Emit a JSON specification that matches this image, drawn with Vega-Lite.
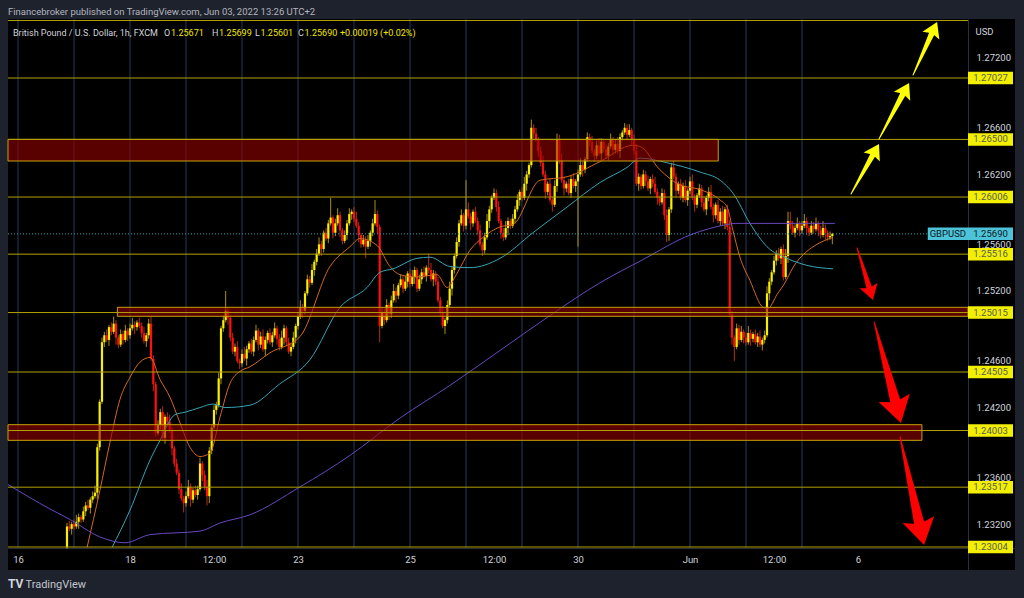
{
"$schema":"https://vega.github.io/schema/vega-lite/v6.json",
"width":1007,"height":551,
"autosize":{"type":"none"},
"padding":{"left":8,"top":19,"right":9,"bottom":28},
"background":"#1e222d",
"title":{"text":"Financebroker published on TradingView.com, Jun 03, 2022 13:26 UTC+2","anchor":"start","frame":"group","offset":7,"dy":10,"baseline":"middle","fontSize":9.5,"fontWeight":"normal","color":"#b2b5be","font":"Roboto"},
"config":{"view":{"fill":"#000000","stroke":null},"font":"Roboto","text":{"font":"Roboto"}},
"datasets":{
"days":[{"t":0},{"t":24},{"t":48},{"t":72},{"t":96},{"t":120},{"t":144},{"t":168},{"t":192},{"t":216},{"t":240},{"t":264},{"t":288},{"t":312},{"t":336}],
"zones":[{"t1":-4.2857,"t2":300.1,"p1":1.26315,"p2":1.26501},{"t1":42.6,"t2":407.14,"p1":1.24983,"p2":1.2506},{"t1":-4.2857,"t2":387.4,"p1":1.23919,"p2":1.24053}],
"levels":[{"p":1.2752},{"p":1.27027},{"p":1.265},{"p":1.26006},{"p":1.25516},{"p":1.25015},{"p":1.24505},{"p":1.24003},{"p":1.23517},{"p":1.23004}],
"tags":[{"p":1.27027},{"p":1.265},{"p":1.26006},{"p":1.25516},{"p":1.25015},{"p":1.24505},{"p":1.24003},{"p":1.23517},{"p":1.23004}],
"ma":[
{"s":"fast","t":29.6,"p":1.2300},{"s":"fast","t":35.1,"p":1.2349},{"s":"fast","t":39.4,"p":1.2390},{"s":"fast","t":43.7,"p":1.2427},{"s":"fast","t":48,"p":1.2446},{"s":"fast","t":52.3,"p":1.2459},{"s":"fast","t":56.6,"p":1.2463},{"s":"fast","t":60.9,"p":1.2444},{"s":"fast","t":65.1,"p":1.2429},{"s":"fast","t":69.4,"p":1.2407},{"s":"fast","t":73.7,"p":1.2386},{"s":"fast","t":78,"p":1.2378},{"s":"fast","t":82.3,"p":1.2381},{"s":"fast","t":86.6,"p":1.2412},{"s":"fast","t":90.9,"p":1.2441},{"s":"fast","t":95.1,"p":1.2451},{"s":"fast","t":99.4,"p":1.2455},{"s":"fast","t":108,"p":1.2467},{"s":"fast","t":120.9,"p":1.2481},{"s":"fast","t":133.7,"p":1.2541},{"s":"fast","t":142.3,"p":1.2558},{"s":"fast","t":146.6,"p":1.2565},{"s":"fast","t":153.9,"p":1.2559},{"s":"fast","t":159.4,"p":1.2541},{"s":"fast","t":163.7,"p":1.2534},{"s":"fast","t":171,"p":1.2532},{"s":"fast","t":179.6,"p":1.2534},{"s":"fast","t":183.9,"p":1.2523},{"s":"fast","t":188.1,"p":1.2535},{"s":"fast","t":193.7,"p":1.2555},{"s":"fast","t":199.3,"p":1.2566},{"s":"fast","t":206.6,"p":1.2575},{"s":"fast","t":212.1,"p":1.2577},{"s":"fast","t":223.7,"p":1.2615},{"s":"fast","t":235.3,"p":1.2618},{"s":"fast","t":249.4,"p":1.2631},{"s":"fast","t":263.6,"p":1.2645},{"s":"fast","t":266.6,"p":1.2644},{"s":"fast","t":275.1,"p":1.2624},{"s":"fast","t":283.7,"p":1.2611},{"s":"fast","t":292.3,"p":1.2607},{"s":"fast","t":300.9,"p":1.2598},{"s":"fast","t":303.9,"p":1.2592},{"s":"fast","t":306.4,"p":1.2572},{"s":"fast","t":309.4,"p":1.2549},{"s":"fast","t":313.7,"p":1.2529},{"s":"fast","t":319.3,"p":1.2506},{"s":"fast","t":321.4,"p":1.2505},{"s":"fast","t":325.3,"p":1.2517},{"s":"fast","t":328.7,"p":1.2527},{"s":"fast","t":332.1,"p":1.2540},{"s":"fast","t":338.1,"p":1.2554},{"s":"fast","t":342.4,"p":1.2560},{"s":"fast","t":349.3,"p":1.2566},
{"s":"mid","t":40.3,"p":1.2300},{"s":"mid","t":48,"p":1.2332},{"s":"mid","t":56.6,"p":1.2375},{"s":"mid","t":60.9,"p":1.2392},{"s":"mid","t":67.3,"p":1.2414},{"s":"mid","t":71.6,"p":1.2416},{"s":"mid","t":78,"p":1.2420},{"s":"mid","t":83.6,"p":1.2423},{"s":"mid","t":88.7,"p":1.2420},{"s":"mid","t":99.4,"p":1.2422},{"s":"mid","t":112,"p":1.2440},{"s":"mid","t":125.1,"p":1.2461},{"s":"mid","t":138,"p":1.2506},{"s":"mid","t":149.6,"p":1.2523},{"s":"mid","t":155.1,"p":1.2536},{"s":"mid","t":160.7,"p":1.2539},{"s":"mid","t":171,"p":1.2548},{"s":"mid","t":176.6,"p":1.2549},{"s":"mid","t":185.1,"p":1.2541},{"s":"mid","t":193.7,"p":1.2540},{"s":"mid","t":206.6,"p":1.2548},{"s":"mid","t":220.7,"p":1.2570},{"s":"mid","t":235.3,"p":1.2592},{"s":"mid","t":249.4,"p":1.2613},{"s":"mid","t":261,"p":1.2626},{"s":"mid","t":266.6,"p":1.2634},{"s":"mid","t":278.1,"p":1.2630},{"s":"mid","t":292.3,"p":1.2622},{"s":"mid","t":300.9,"p":1.2615},{"s":"mid","t":306.4,"p":1.2604},{"s":"mid","t":313.7,"p":1.2578},{"s":"mid","t":321,"p":1.2558},{"s":"mid","t":329.6,"p":1.2548},{"s":"mid","t":338.1,"p":1.2542},{"s":"mid","t":349.3,"p":1.2539},
{"s":"slow","t":-4.3,"p":1.2354},{"s":"slow","t":13.7,"p":1.2333},{"s":"slow","t":22.3,"p":1.2324},{"s":"slow","t":35.1,"p":1.2309},{"s":"slow","t":45.9,"p":1.2304},{"s":"slow","t":56.6,"p":1.2311},{"s":"slow","t":78,"p":1.2314},{"s":"slow","t":86.6,"p":1.2321},{"s":"slow","t":99.4,"p":1.2328},{"s":"slow","t":120.9,"p":1.2352},{"s":"slow","t":142.3,"p":1.2379},{"s":"slow","t":163.7,"p":1.2411},{"s":"slow","t":185.1,"p":1.2439},{"s":"slow","t":206.6,"p":1.2469},{"s":"slow","t":228,"p":1.2499},{"s":"slow","t":249.4,"p":1.2527},{"s":"slow","t":267.9,"p":1.2547},{"s":"slow","t":288,"p":1.2568},{"s":"slow","t":303.9,"p":1.2577},{"s":"slow","t":307.3,"p":1.2578},{"s":"slow","t":350.1,"p":1.2578}
],
"shafts":[
{"id":"A1","kind":"up","part":"tail","hs":"s","t":357.0,"p":1.26032},{"id":"A1","kind":"up","part":"end","hs":"s","t":367.1,"p":1.26393},
{"id":"A2","kind":"up","part":"tail","hs":"s","t":369.0,"p":1.26504},{"id":"A2","kind":"up","part":"end","hs":"s","t":379.8,"p":1.26909},
{"id":"A3","kind":"up","part":"tail","hs":"s","t":383.6,"p":1.27053},{"id":"A3","kind":"up","part":"end","hs":"s","t":392.1,"p":1.27429},
{"id":"R1","kind":"down","part":"tail","hs":"s","t":359.6,"p":1.25569},{"id":"R1","kind":"down","part":"end","hs":"s","t":365.3,"p":1.25196},
{"id":"R2","kind":"down","part":"tail","hs":"l","t":366.9,"p":1.24934},{"id":"R2","kind":"down","part":"end","hs":"l","t":376.7,"p":1.24201},
{"id":"R3","kind":"down","part":"tail","hs":"l","t":378.0,"p":1.23948},{"id":"R3","kind":"down","part":"end","hs":"l","t":386.8,"p":1.23155}
],
"heads":[
{"id":"A1","kind":"up","hs":"s","t":369.0,"p":1.26461,"heading":29.2},
{"id":"A2","kind":"up","hs":"s","t":381.9,"p":1.26984,"heading":28.2},
{"id":"A3","kind":"up","hs":"s","t":393.9,"p":1.27507,"heading":24.4},
{"id":"R1","kind":"down","hs":"s","t":366.4,"p":1.25123,"heading":162.9},
{"id":"R2","kind":"down","hs":"l","t":378.4,"p":1.24068,"heading":165},
{"id":"R3","kind":"down","hs":"l","t":388.3,"p":1.23021,"heading":167.5}
],
"ohlc":[
{"t":21,"o":1.2300,"h":1.2321,"l":1.2299,"c":1.2318},
{"t":22,"o":1.2318,"h":1.2323,"l":1.2314,"c":1.2316},
{"t":23,"o":1.2316,"h":1.2322,"l":1.2311,"c":1.2320},
{"t":24,"o":1.2320,"h":1.2324,"l":1.2315,"c":1.2318},
{"t":25,"o":1.2318,"h":1.2328,"l":1.2316,"c":1.2322},
{"t":26,"o":1.2322,"h":1.2329,"l":1.2316,"c":1.2326},
{"t":27,"o":1.2326,"h":1.2328,"l":1.2321,"c":1.2324},
{"t":28,"o":1.2324,"h":1.2335,"l":1.2322,"c":1.2331},
{"t":29,"o":1.2331,"h":1.2339,"l":1.2327,"c":1.2336},
{"t":30,"o":1.2336,"h":1.2341,"l":1.2332,"c":1.2334},
{"t":31,"o":1.2334,"h":1.2343,"l":1.2329,"c":1.2341},
{"t":32,"o":1.2341,"h":1.2348,"l":1.2338,"c":1.2344},
{"t":33,"o":1.2344,"h":1.2353,"l":1.2342,"c":1.2347},
{"t":34,"o":1.2347,"h":1.2389,"l":1.2341,"c":1.2386},
{"t":35,"o":1.2386,"h":1.2427,"l":1.2383,"c":1.2425},
{"t":36,"o":1.2425,"h":1.2480,"l":1.2423,"c":1.2476},
{"t":37,"o":1.2476,"h":1.2485,"l":1.2472,"c":1.2482},
{"t":38,"o":1.2482,"h":1.2487,"l":1.2476,"c":1.2478},
{"t":39,"o":1.2478,"h":1.2491,"l":1.2473,"c":1.2489},
{"t":40,"o":1.2489,"h":1.2493,"l":1.2482,"c":1.2485},
{"t":41,"o":1.2485,"h":1.2498,"l":1.2483,"c":1.2492},
{"t":42,"o":1.2492,"h":1.2495,"l":1.2474,"c":1.2480},
{"t":43,"o":1.2480,"h":1.2482,"l":1.2471,"c":1.2474},
{"t":44,"o":1.2474,"h":1.2487,"l":1.2472,"c":1.2483},
{"t":45,"o":1.2483,"h":1.2486,"l":1.2474,"c":1.2478},
{"t":46,"o":1.2478,"h":1.2491,"l":1.2476,"c":1.2486},
{"t":47,"o":1.2486,"h":1.2488,"l":1.2477,"c":1.2482},
{"t":48,"o":1.2482,"h":1.2492,"l":1.2479,"c":1.2488},
{"t":49,"o":1.2488,"h":1.2497,"l":1.2486,"c":1.2491},
{"t":50,"o":1.2491,"h":1.2494,"l":1.2483,"c":1.2489},
{"t":51,"o":1.2489,"h":1.2495,"l":1.2486,"c":1.2493},
{"t":52,"o":1.2493,"h":1.2497,"l":1.2488,"c":1.2490},
{"t":53,"o":1.2490,"h":1.2493,"l":1.2480,"c":1.2484},
{"t":54,"o":1.2484,"h":1.2489,"l":1.2475,"c":1.2477},
{"t":55,"o":1.2477,"h":1.2484,"l":1.2472,"c":1.2482},
{"t":56,"o":1.2482,"h":1.2496,"l":1.2479,"c":1.2492},
{"t":57,"o":1.2492,"h":1.2498,"l":1.2460,"c":1.2462},
{"t":58,"o":1.2462,"h":1.2465,"l":1.2434,"c":1.2440},
{"t":59,"o":1.2440,"h":1.2442,"l":1.2395,"c":1.2398},
{"t":60,"o":1.2398,"h":1.2409,"l":1.2396,"c":1.2405},
{"t":61,"o":1.2405,"h":1.2419,"l":1.2401,"c":1.2416},
{"t":62,"o":1.2416,"h":1.2421,"l":1.2392,"c":1.2394},
{"t":63,"o":1.2394,"h":1.2414,"l":1.2389,"c":1.2412},
{"t":64,"o":1.2412,"h":1.2416,"l":1.2405,"c":1.2408},
{"t":65,"o":1.2408,"h":1.2414,"l":1.2398,"c":1.2400},
{"t":66,"o":1.2400,"h":1.2403,"l":1.2379,"c":1.2385},
{"t":67,"o":1.2385,"h":1.2387,"l":1.2369,"c":1.2372},
{"t":68,"o":1.2372,"h":1.2376,"l":1.2362,"c":1.2364},
{"t":69,"o":1.2364,"h":1.2367,"l":1.2346,"c":1.2350},
{"t":70,"o":1.2350,"h":1.2355,"l":1.2340,"c":1.2342},
{"t":71,"o":1.2342,"h":1.2344,"l":1.2330,"c":1.2338},
{"t":72,"o":1.2338,"h":1.2348,"l":1.2335,"c":1.2344},
{"t":73,"o":1.2344,"h":1.2358,"l":1.2342,"c":1.2352},
{"t":74,"o":1.2352,"h":1.2355,"l":1.2335,"c":1.2341},
{"t":75,"o":1.2341,"h":1.2351,"l":1.2338,"c":1.2349},
{"t":76,"o":1.2349,"h":1.2353,"l":1.2343,"c":1.2345},
{"t":77,"o":1.2345,"h":1.2353,"l":1.2341,"c":1.2350},
{"t":78,"o":1.2350,"h":1.2377,"l":1.2348,"c":1.2372},
{"t":79,"o":1.2372,"h":1.2374,"l":1.2357,"c":1.2362},
{"t":80,"o":1.2362,"h":1.2366,"l":1.2349,"c":1.2352},
{"t":81,"o":1.2352,"h":1.2358,"l":1.2336,"c":1.2344},
{"t":82,"o":1.2344,"h":1.2386,"l":1.2338,"c":1.2383},
{"t":83,"o":1.2383,"h":1.2405,"l":1.2380,"c":1.2403},
{"t":84,"o":1.2403,"h":1.2422,"l":1.2401,"c":1.2418},
{"t":85,"o":1.2418,"h":1.2425,"l":1.2414,"c":1.2422},
{"t":86,"o":1.2422,"h":1.2450,"l":1.2420,"c":1.2445},
{"t":87,"o":1.2445,"h":1.2490,"l":1.2440,"c":1.2488},
{"t":88,"o":1.2488,"h":1.2499,"l":1.2485,"c":1.2495},
{"t":89,"o":1.2495,"h":1.2520,"l":1.2493,"c":1.2503},
{"t":90,"o":1.2503,"h":1.2506,"l":1.2491,"c":1.2497},
{"t":91,"o":1.2497,"h":1.2499,"l":1.2477,"c":1.2480},
{"t":92,"o":1.2480,"h":1.2484,"l":1.2466,"c":1.2468},
{"t":93,"o":1.2468,"h":1.2475,"l":1.2464,"c":1.2472},
{"t":94,"o":1.2472,"h":1.2477,"l":1.2458,"c":1.2460},
{"t":95,"o":1.2460,"h":1.2462,"l":1.2453,"c":1.2458},
{"t":96,"o":1.2458,"h":1.2470,"l":1.2455,"c":1.2466},
{"t":97,"o":1.2466,"h":1.2472,"l":1.2460,"c":1.2462},
{"t":98,"o":1.2462,"h":1.2473,"l":1.2456,"c":1.2470},
{"t":99,"o":1.2470,"h":1.2477,"l":1.2467,"c":1.2475},
{"t":100,"o":1.2475,"h":1.2479,"l":1.2466,"c":1.2468},
{"t":101,"o":1.2468,"h":1.2481,"l":1.2464,"c":1.2478},
{"t":102,"o":1.2478,"h":1.2491,"l":1.2476,"c":1.2486},
{"t":103,"o":1.2486,"h":1.2488,"l":1.2469,"c":1.2474},
{"t":104,"o":1.2474,"h":1.2485,"l":1.2471,"c":1.2481},
{"t":105,"o":1.2481,"h":1.2487,"l":1.2468,"c":1.2470},
{"t":106,"o":1.2470,"h":1.2481,"l":1.2464,"c":1.2478},
{"t":107,"o":1.2478,"h":1.2486,"l":1.2475,"c":1.2484},
{"t":108,"o":1.2484,"h":1.2488,"l":1.2474,"c":1.2476},
{"t":109,"o":1.2476,"h":1.2485,"l":1.2472,"c":1.2482},
{"t":110,"o":1.2482,"h":1.2493,"l":1.2480,"c":1.2488},
{"t":111,"o":1.2488,"h":1.2490,"l":1.2474,"c":1.2479},
{"t":112,"o":1.2479,"h":1.2483,"l":1.2469,"c":1.2472},
{"t":113,"o":1.2472,"h":1.2486,"l":1.2470,"c":1.2480},
{"t":114,"o":1.2480,"h":1.2491,"l":1.2474,"c":1.2488},
{"t":115,"o":1.2488,"h":1.2490,"l":1.2473,"c":1.2476},
{"t":116,"o":1.2476,"h":1.2480,"l":1.2466,"c":1.2468},
{"t":117,"o":1.2468,"h":1.2475,"l":1.2464,"c":1.2472},
{"t":118,"o":1.2472,"h":1.2485,"l":1.2470,"c":1.2480},
{"t":119,"o":1.2480,"h":1.2492,"l":1.2475,"c":1.2490},
{"t":120,"o":1.2490,"h":1.2502,"l":1.2487,"c":1.2498},
{"t":121,"o":1.2498,"h":1.2512,"l":1.2496,"c":1.2506},
{"t":122,"o":1.2506,"h":1.2509,"l":1.2497,"c":1.2503},
{"t":123,"o":1.2503,"h":1.2520,"l":1.2500,"c":1.2518},
{"t":124,"o":1.2518,"h":1.2534,"l":1.2516,"c":1.2530},
{"t":125,"o":1.2530,"h":1.2533,"l":1.2523,"c":1.2527},
{"t":126,"o":1.2527,"h":1.2543,"l":1.2525,"c":1.2538},
{"t":127,"o":1.2538,"h":1.2547,"l":1.2533,"c":1.2545},
{"t":128,"o":1.2545,"h":1.2556,"l":1.2542,"c":1.2552},
{"t":129,"o":1.2552,"h":1.2566,"l":1.2550,"c":1.2560},
{"t":130,"o":1.2560,"h":1.2563,"l":1.2550,"c":1.2556},
{"t":131,"o":1.2556,"h":1.2572,"l":1.2553,"c":1.2570},
{"t":132,"o":1.2570,"h":1.2574,"l":1.2563,"c":1.2565},
{"t":133,"o":1.2565,"h":1.2581,"l":1.2561,"c":1.2578},
{"t":134,"o":1.2578,"h":1.2600,"l":1.2576,"c":1.2583},
{"t":135,"o":1.2583,"h":1.2585,"l":1.2565,"c":1.2570},
{"t":136,"o":1.2570,"h":1.2582,"l":1.2567,"c":1.2578},
{"t":137,"o":1.2578,"h":1.2591,"l":1.2576,"c":1.2585},
{"t":138,"o":1.2585,"h":1.2588,"l":1.2566,"c":1.2572},
{"t":139,"o":1.2572,"h":1.2574,"l":1.2560,"c":1.2563},
{"t":140,"o":1.2563,"h":1.2572,"l":1.2561,"c":1.2568},
{"t":141,"o":1.2568,"h":1.2581,"l":1.2564,"c":1.2578},
{"t":142,"o":1.2578,"h":1.2591,"l":1.2576,"c":1.2586},
{"t":143,"o":1.2586,"h":1.2590,"l":1.2581,"c":1.2588},
{"t":144,"o":1.2588,"h":1.2592,"l":1.2579,"c":1.2582},
{"t":145,"o":1.2582,"h":1.2588,"l":1.2574,"c":1.2576},
{"t":146,"o":1.2576,"h":1.2579,"l":1.2562,"c":1.2568},
{"t":147,"o":1.2568,"h":1.2570,"l":1.2557,"c":1.2560},
{"t":148,"o":1.2560,"h":1.2568,"l":1.2558,"c":1.2564},
{"t":149,"o":1.2564,"h":1.2567,"l":1.2548,"c":1.2558},
{"t":150,"o":1.2558,"h":1.2568,"l":1.2556,"c":1.2563},
{"t":151,"o":1.2563,"h":1.2572,"l":1.2558,"c":1.2570},
{"t":152,"o":1.2570,"h":1.2582,"l":1.2567,"c":1.2578},
{"t":153,"o":1.2578,"h":1.2598,"l":1.2576,"c":1.2586},
{"t":154,"o":1.2586,"h":1.2589,"l":1.2569,"c":1.2575},
{"t":155,"o":1.2575,"h":1.2577,"l":1.2476,"c":1.2490},
{"t":156,"o":1.2490,"h":1.2506,"l":1.2488,"c":1.2502},
{"t":157,"o":1.2502,"h":1.2505,"l":1.2491,"c":1.2495},
{"t":158,"o":1.2495,"h":1.2513,"l":1.2493,"c":1.2508},
{"t":159,"o":1.2508,"h":1.2510,"l":1.2495,"c":1.2500},
{"t":160,"o":1.2500,"h":1.2516,"l":1.2497,"c":1.2512},
{"t":161,"o":1.2512,"h":1.2526,"l":1.2510,"c":1.2520},
{"t":162,"o":1.2520,"h":1.2523,"l":1.2510,"c":1.2516},
{"t":163,"o":1.2516,"h":1.2527,"l":1.2513,"c":1.2525},
{"t":164,"o":1.2525,"h":1.2534,"l":1.2523,"c":1.2530},
{"t":165,"o":1.2530,"h":1.2533,"l":1.2518,"c":1.2522},
{"t":166,"o":1.2522,"h":1.2533,"l":1.2520,"c":1.2528},
{"t":167,"o":1.2528,"h":1.2537,"l":1.2523,"c":1.2535},
{"t":168,"o":1.2535,"h":1.2539,"l":1.2523,"c":1.2526},
{"t":169,"o":1.2526,"h":1.2538,"l":1.2524,"c":1.2532},
{"t":170,"o":1.2532,"h":1.2541,"l":1.2526,"c":1.2538},
{"t":171,"o":1.2538,"h":1.2540,"l":1.2519,"c":1.2522},
{"t":172,"o":1.2522,"h":1.2534,"l":1.2520,"c":1.2530},
{"t":173,"o":1.2530,"h":1.2539,"l":1.2526,"c":1.2536},
{"t":174,"o":1.2536,"h":1.2541,"l":1.2531,"c":1.2533},
{"t":175,"o":1.2533,"h":1.2542,"l":1.2528,"c":1.2540},
{"t":176,"o":1.2540,"h":1.2552,"l":1.2535,"c":1.2538},
{"t":177,"o":1.2538,"h":1.2544,"l":1.2528,"c":1.2530},
{"t":178,"o":1.2530,"h":1.2538,"l":1.2524,"c":1.2535},
{"t":179,"o":1.2535,"h":1.2537,"l":1.2525,"c":1.2528},
{"t":180,"o":1.2528,"h":1.2532,"l":1.2510,"c":1.2512},
{"t":181,"o":1.2512,"h":1.2515,"l":1.2498,"c":1.2502},
{"t":182,"o":1.2502,"h":1.2507,"l":1.2488,"c":1.2490},
{"t":183,"o":1.2490,"h":1.2497,"l":1.2483,"c":1.2495},
{"t":184,"o":1.2495,"h":1.2512,"l":1.2492,"c":1.2508},
{"t":185,"o":1.2508,"h":1.2528,"l":1.2506,"c":1.2522},
{"t":186,"o":1.2522,"h":1.2541,"l":1.2516,"c":1.2538},
{"t":187,"o":1.2538,"h":1.2552,"l":1.2535,"c":1.2550},
{"t":188,"o":1.2550,"h":1.2566,"l":1.2548,"c":1.2562},
{"t":189,"o":1.2562,"h":1.2581,"l":1.2558,"c":1.2578},
{"t":190,"o":1.2578,"h":1.2590,"l":1.2576,"c":1.2585},
{"t":191,"o":1.2585,"h":1.2587,"l":1.2571,"c":1.2576},
{"t":192,"o":1.2576,"h":1.2615,"l":1.2573,"c":1.2590},
{"t":193,"o":1.2590,"h":1.2596,"l":1.2582,"c":1.2584},
{"t":194,"o":1.2584,"h":1.2587,"l":1.2572,"c":1.2578},
{"t":195,"o":1.2578,"h":1.2590,"l":1.2575,"c":1.2588},
{"t":196,"o":1.2588,"h":1.2592,"l":1.2578,"c":1.2580},
{"t":197,"o":1.2580,"h":1.2583,"l":1.2568,"c":1.2572},
{"t":198,"o":1.2572,"h":1.2577,"l":1.2558,"c":1.2560},
{"t":199,"o":1.2560,"h":1.2562,"l":1.2550,"c":1.2555},
{"t":200,"o":1.2555,"h":1.2570,"l":1.2552,"c":1.2566},
{"t":201,"o":1.2566,"h":1.2586,"l":1.2564,"c":1.2580},
{"t":202,"o":1.2580,"h":1.2593,"l":1.2574,"c":1.2590},
{"t":203,"o":1.2590,"h":1.2602,"l":1.2587,"c":1.2600},
{"t":204,"o":1.2600,"h":1.2608,"l":1.2598,"c":1.2604},
{"t":205,"o":1.2604,"h":1.2607,"l":1.2588,"c":1.2592},
{"t":206,"o":1.2592,"h":1.2597,"l":1.2578,"c":1.2580},
{"t":207,"o":1.2580,"h":1.2582,"l":1.2565,"c":1.2570},
{"t":208,"o":1.2570,"h":1.2574,"l":1.2563,"c":1.2566},
{"t":209,"o":1.2566,"h":1.2580,"l":1.2564,"c":1.2574},
{"t":210,"o":1.2574,"h":1.2583,"l":1.2568,"c":1.2580},
{"t":211,"o":1.2580,"h":1.2582,"l":1.2573,"c":1.2576},
{"t":212,"o":1.2576,"h":1.2586,"l":1.2574,"c":1.2582},
{"t":213,"o":1.2582,"h":1.2593,"l":1.2578,"c":1.2590},
{"t":214,"o":1.2590,"h":1.2603,"l":1.2588,"c":1.2598},
{"t":215,"o":1.2598,"h":1.2607,"l":1.2593,"c":1.2605},
{"t":216,"o":1.2605,"h":1.2609,"l":1.2597,"c":1.2600},
{"t":217,"o":1.2600,"h":1.2618,"l":1.2598,"c":1.2612},
{"t":218,"o":1.2612,"h":1.2623,"l":1.2606,"c":1.2620},
{"t":219,"o":1.2620,"h":1.2630,"l":1.2617,"c":1.2628},
{"t":220,"o":1.2628,"h":1.2667,"l":1.2626,"c":1.2660},
{"t":221,"o":1.2660,"h":1.2663,"l":1.2651,"c":1.2655},
{"t":222,"o":1.2655,"h":1.2660,"l":1.2648,"c":1.2650},
{"t":223,"o":1.2650,"h":1.2652,"l":1.2635,"c":1.2640},
{"t":224,"o":1.2640,"h":1.2644,"l":1.2627,"c":1.2630},
{"t":225,"o":1.2630,"h":1.2636,"l":1.2618,"c":1.2620},
{"t":226,"o":1.2620,"h":1.2623,"l":1.2599,"c":1.2605},
{"t":227,"o":1.2605,"h":1.2614,"l":1.2602,"c":1.2612},
{"t":228,"o":1.2612,"h":1.2616,"l":1.2596,"c":1.2598},
{"t":229,"o":1.2598,"h":1.2601,"l":1.2588,"c":1.2594},
{"t":230,"o":1.2594,"h":1.2615,"l":1.2592,"c":1.2610},
{"t":231,"o":1.2610,"h":1.2655,"l":1.2605,"c":1.2650},
{"t":232,"o":1.2650,"h":1.2654,"l":1.2629,"c":1.2632},
{"t":233,"o":1.2632,"h":1.2638,"l":1.2613,"c":1.2615},
{"t":234,"o":1.2615,"h":1.2618,"l":1.2602,"c":1.2608},
{"t":235,"o":1.2608,"h":1.2614,"l":1.2605,"c":1.2612},
{"t":236,"o":1.2612,"h":1.2616,"l":1.2602,"c":1.2604},
{"t":237,"o":1.2604,"h":1.2619,"l":1.2600,"c":1.2616},
{"t":238,"o":1.2616,"h":1.2621,"l":1.2608,"c":1.2610},
{"t":239,"o":1.2610,"h":1.2616,"l":1.2605,"c":1.2614},
{"t":240,"o":1.2614,"h":1.2624,"l":1.2558,"c":1.2620},
{"t":241,"o":1.2620,"h":1.2634,"l":1.2618,"c":1.2628},
{"t":242,"o":1.2628,"h":1.2631,"l":1.2618,"c":1.2624},
{"t":243,"o":1.2624,"h":1.2635,"l":1.2621,"c":1.2633},
{"t":244,"o":1.2633,"h":1.2656,"l":1.2631,"c":1.2652},
{"t":245,"o":1.2652,"h":1.2655,"l":1.2644,"c":1.2648},
{"t":246,"o":1.2648,"h":1.2653,"l":1.2638,"c":1.2640},
{"t":247,"o":1.2640,"h":1.2642,"l":1.2631,"c":1.2636},
{"t":248,"o":1.2636,"h":1.2649,"l":1.2633,"c":1.2645},
{"t":249,"o":1.2645,"h":1.2651,"l":1.2636,"c":1.2638},
{"t":250,"o":1.2638,"h":1.2651,"l":1.2632,"c":1.2648},
{"t":251,"o":1.2648,"h":1.2650,"l":1.2639,"c":1.2642},
{"t":252,"o":1.2642,"h":1.2646,"l":1.2634,"c":1.2636},
{"t":253,"o":1.2636,"h":1.2647,"l":1.2632,"c":1.2644},
{"t":254,"o":1.2644,"h":1.2655,"l":1.2642,"c":1.2650},
{"t":255,"o":1.2650,"h":1.2652,"l":1.2636,"c":1.2641},
{"t":256,"o":1.2641,"h":1.2650,"l":1.2638,"c":1.2646},
{"t":257,"o":1.2646,"h":1.2652,"l":1.2638,"c":1.2640},
{"t":258,"o":1.2640,"h":1.2655,"l":1.2634,"c":1.2652},
{"t":259,"o":1.2652,"h":1.2658,"l":1.2649,"c":1.2656},
{"t":260,"o":1.2656,"h":1.2664,"l":1.2654,"c":1.2660},
{"t":261,"o":1.2660,"h":1.2663,"l":1.2650,"c":1.2654},
{"t":262,"o":1.2654,"h":1.2663,"l":1.2652,"c":1.2658},
{"t":263,"o":1.2658,"h":1.2660,"l":1.2645,"c":1.2650},
{"t":264,"o":1.2650,"h":1.2654,"l":1.2637,"c":1.2640},
{"t":265,"o":1.2640,"h":1.2646,"l":1.2610,"c":1.2612},
{"t":266,"o":1.2612,"h":1.2621,"l":1.2606,"c":1.2618},
{"t":267,"o":1.2618,"h":1.2620,"l":1.2607,"c":1.2610},
{"t":268,"o":1.2610,"h":1.2624,"l":1.2608,"c":1.2620},
{"t":269,"o":1.2620,"h":1.2623,"l":1.2610,"c":1.2614},
{"t":270,"o":1.2614,"h":1.2619,"l":1.2606,"c":1.2608},
{"t":271,"o":1.2608,"h":1.2618,"l":1.2603,"c":1.2616},
{"t":272,"o":1.2616,"h":1.2620,"l":1.2609,"c":1.2612},
{"t":273,"o":1.2612,"h":1.2618,"l":1.2603,"c":1.2605},
{"t":274,"o":1.2605,"h":1.2608,"l":1.2594,"c":1.2600},
{"t":275,"o":1.2600,"h":1.2602,"l":1.2593,"c":1.2596},
{"t":276,"o":1.2596,"h":1.2608,"l":1.2594,"c":1.2604},
{"t":277,"o":1.2604,"h":1.2607,"l":1.2581,"c":1.2585},
{"t":278,"o":1.2585,"h":1.2590,"l":1.2562,"c":1.2568},
{"t":279,"o":1.2568,"h":1.2592,"l":1.2563,"c":1.2590},
{"t":280,"o":1.2590,"h":1.2630,"l":1.2587,"c":1.2626},
{"t":281,"o":1.2626,"h":1.2632,"l":1.2616,"c":1.2618},
{"t":282,"o":1.2618,"h":1.2621,"l":1.2600,"c":1.2606},
{"t":283,"o":1.2606,"h":1.2614,"l":1.2603,"c":1.2612},
{"t":284,"o":1.2612,"h":1.2616,"l":1.2598,"c":1.2600},
{"t":285,"o":1.2600,"h":1.2613,"l":1.2596,"c":1.2610},
{"t":286,"o":1.2610,"h":1.2615,"l":1.2596,"c":1.2598},
{"t":287,"o":1.2598,"h":1.2608,"l":1.2593,"c":1.2606},
{"t":288,"o":1.2606,"h":1.2618,"l":1.2603,"c":1.2614},
{"t":289,"o":1.2614,"h":1.2620,"l":1.2598,"c":1.2600},
{"t":290,"o":1.2600,"h":1.2603,"l":1.2588,"c":1.2594},
{"t":291,"o":1.2594,"h":1.2604,"l":1.2591,"c":1.2602},
{"t":292,"o":1.2602,"h":1.2612,"l":1.2600,"c":1.2608},
{"t":293,"o":1.2608,"h":1.2611,"l":1.2592,"c":1.2596},
{"t":294,"o":1.2596,"h":1.2601,"l":1.2588,"c":1.2590},
{"t":295,"o":1.2590,"h":1.2602,"l":1.2585,"c":1.2600},
{"t":296,"o":1.2600,"h":1.2609,"l":1.2597,"c":1.2605},
{"t":297,"o":1.2605,"h":1.2611,"l":1.2590,"c":1.2592},
{"t":298,"o":1.2592,"h":1.2595,"l":1.2579,"c":1.2585},
{"t":299,"o":1.2585,"h":1.2596,"l":1.2582,"c":1.2594},
{"t":300,"o":1.2594,"h":1.2598,"l":1.2578,"c":1.2580},
{"t":301,"o":1.2580,"h":1.2591,"l":1.2576,"c":1.2588},
{"t":302,"o":1.2588,"h":1.2593,"l":1.2576,"c":1.2578},
{"t":303,"o":1.2578,"h":1.2592,"l":1.2573,"c":1.2590},
{"t":304,"o":1.2590,"h":1.2594,"l":1.2572,"c":1.2575},
{"t":305,"o":1.2575,"h":1.2581,"l":1.2498,"c":1.2500},
{"t":306,"o":1.2500,"h":1.2503,"l":1.2474,"c":1.2480},
{"t":307,"o":1.2480,"h":1.2482,"l":1.2460,"c":1.2472},
{"t":308,"o":1.2472,"h":1.2492,"l":1.2470,"c":1.2488},
{"t":309,"o":1.2488,"h":1.2491,"l":1.2474,"c":1.2478},
{"t":310,"o":1.2478,"h":1.2490,"l":1.2476,"c":1.2485},
{"t":311,"o":1.2485,"h":1.2487,"l":1.2475,"c":1.2480},
{"t":312,"o":1.2480,"h":1.2484,"l":1.2473,"c":1.2476},
{"t":313,"o":1.2476,"h":1.2490,"l":1.2474,"c":1.2484},
{"t":314,"o":1.2484,"h":1.2487,"l":1.2473,"c":1.2479},
{"t":315,"o":1.2479,"h":1.2485,"l":1.2476,"c":1.2483},
{"t":316,"o":1.2483,"h":1.2487,"l":1.2474,"c":1.2476},
{"t":317,"o":1.2476,"h":1.2484,"l":1.2472,"c":1.2481},
{"t":318,"o":1.2481,"h":1.2486,"l":1.2472,"c":1.2474},
{"t":319,"o":1.2474,"h":1.2480,"l":1.2469,"c":1.2478},
{"t":320,"o":1.2478,"h":1.2486,"l":1.2475,"c":1.2482},
{"t":321,"o":1.2482,"h":1.2524,"l":1.2480,"c":1.2518},
{"t":322,"o":1.2518,"h":1.2531,"l":1.2512,"c":1.2528},
{"t":323,"o":1.2528,"h":1.2538,"l":1.2525,"c":1.2536},
{"t":324,"o":1.2536,"h":1.2550,"l":1.2534,"c":1.2546},
{"t":325,"o":1.2546,"h":1.2555,"l":1.2542,"c":1.2552},
{"t":326,"o":1.2552,"h":1.2557,"l":1.2546,"c":1.2548},
{"t":327,"o":1.2548,"h":1.2558,"l":1.2543,"c":1.2556},
{"t":328,"o":1.2556,"h":1.2560,"l":1.2529,"c":1.2532},
{"t":329,"o":1.2532,"h":1.2556,"l":1.2530,"c":1.2550},
{"t":330,"o":1.2550,"h":1.2588,"l":1.2544,"c":1.2580},
{"t":331,"o":1.2580,"h":1.2588,"l":1.2573,"c":1.2576},
{"t":332,"o":1.2576,"h":1.2580,"l":1.2568,"c":1.2570},
{"t":333,"o":1.2570,"h":1.2577,"l":1.2566,"c":1.2574},
{"t":334,"o":1.2574,"h":1.2583,"l":1.2572,"c":1.2578},
{"t":335,"o":1.2578,"h":1.2580,"l":1.2567,"c":1.2572},
{"t":336,"o":1.2572,"h":1.2580,"l":1.2569,"c":1.2576},
{"t":337,"o":1.2576,"h":1.2586,"l":1.2574,"c":1.2580},
{"t":338,"o":1.2580,"h":1.2583,"l":1.2568,"c":1.2574},
{"t":339,"o":1.2574,"h":1.2576,"l":1.2567,"c":1.2570},
{"t":340,"o":1.2570,"h":1.2580,"l":1.2568,"c":1.2576},
{"t":341,"o":1.2576,"h":1.2579,"l":1.2569,"c":1.2573},
{"t":342,"o":1.2573,"h":1.2583,"l":1.2571,"c":1.2578},
{"t":343,"o":1.2578,"h":1.2580,"l":1.2567,"c":1.2572},
{"t":344,"o":1.2572,"h":1.2576,"l":1.2565,"c":1.2568},
{"t":345,"o":1.2568,"h":1.2580,"l":1.2566,"c":1.2574},
{"t":346,"o":1.2574,"h":1.2577,"l":1.2564,"c":1.2570},
{"t":347,"o":1.2570,"h":1.2572,"l":1.2563,"c":1.2566},
{"t":348,"o":1.2566,"h":1.2571,"l":1.2564,"c":1.25671},
{"t":349,"o":1.25671,"h":1.25699,"l":1.25601,"c":1.2569}
]
},
"layer":[
{"data":{"name":"days"},"mark":{"type":"rule","color":"#26385a","strokeWidth":1},
 "encoding":{"x":{"field":"t","type":"quantitative"},"y":{"datum":1.22995},"y2":{"datum":1.275331}}},
{"data":{"name":"ohlc"},"mark":{"type":"rule","strokeWidth":1},
 "encoding":{
  "x":{"field":"t","type":"quantitative","scale":{"domain":[-4.2857,427.2857],"nice":false,"zero":false},
   "axis":{"orient":"bottom","offset":-22,"zindex":0,"values":[0,48,84,120,168,204,240,288,324,360],
    "labelExpr":"datum.value==0?'16':datum.value==48?'18':datum.value==120?'23':datum.value==168?'25':datum.value==240?'30':datum.value==288?'Jun':datum.value==360?'6':'12:00'",
    "ticks":false,"grid":false,"domain":true,"domainColor":"#2a2e39","labelColor":"#d1d4dc","labelFontSize":9.5,"labelPadding":6,"labelDx":3,"labelFlush":false,"labelOverlap":false,
    "title":"TradingView","titleColor":"#c3c6ce","titleFontSize":11,"titleFontWeight":"normal","titleX":17,"titleY":36,"titleAlign":"left","titleBaseline":"middle"}},
  "y":{"field":"l","type":"quantitative","scale":{"domain":[1.228066,1.275331],"nice":false,"zero":false},
   "axis":{"orient":"right","offset":-47,"zindex":0,"values":[1.232,1.234,1.236,1.238,1.242,1.244,1.246,1.248,1.252,1.254,1.256,1.258,1.262,1.264,1.266,1.268,1.272],
    "format":".5f","ticks":false,"grid":false,"domain":true,"domainColor":"#2a2e39","labelColor":"#d1d4dc","labelFontSize":9.5,"labelPadding":8,"labelAlign":"left","labelBaseline":"middle","labelOverlap":false,"labelFlush":false,
    "title":"USD","titleAngle":0,"titleX":7,"titleY":12,"titleAlign":"left","titleBaseline":"middle","titleColor":"#d1d4dc","titleFontSize":9.5,"titleFontWeight":"normal"}},
  "y2":{"field":"h"},
  "color":{"condition":{"test":"datum.c>=datum.o","value":"#a99010"},"value":"#b03018"}}},
{"data":{"name":"ohlc"},"mark":{"type":"rule","strokeWidth":2.2,"strokeCap":"butt"},
 "encoding":{"x":{"field":"t","type":"quantitative"},"y":{"field":"o","type":"quantitative"},"y2":{"field":"c"},
  "color":{"condition":{"test":"datum.c>=datum.o","value":"#f7f000"},"value":"#ff1010"}}},
{"data":{"name":"ma"},"mark":{"type":"line","strokeWidth":1,"interpolate":"monotone"},
 "encoding":{"x":{"field":"t","type":"quantitative"},"y":{"field":"p","type":"quantitative"},
  "color":{"field":"s","type":"nominal","scale":{"domain":["fast","mid","slow"],"range":["#d2691e","#38a3b5","#6847c0"]},"legend":null}}},
{"data":{"name":"zones"},"mark":{"type":"rect","fill":"#9a0000","fillOpacity":0.58,"stroke":"#c9a200","strokeWidth":1},
 "encoding":{"x":{"field":"t1","type":"quantitative"},"x2":{"field":"t2"},"y":{"field":"p1","type":"quantitative"},"y2":{"field":"p2"}}},
{"data":{"name":"levels"},"mark":{"type":"rule","color":"#b3a100","strokeWidth":1},
 "encoding":{"x":{"datum":-4.2857},"x2":{"datum":407.14},"y":{"field":"p","type":"quantitative"}}},
{"data":{"values":[{}]},"mark":{"type":"rule","color":"#3a9fb3","strokeWidth":1,"strokeDash":[1,2]},
 "encoding":{"x":{"datum":-4.2857},"x2":{"datum":389.9},"y":{"datum":1.2569}}},
{"data":{"name":"tags"},"mark":{"type":"rule","color":"#f2f000","strokeWidth":12.5,"strokeCap":"butt"},
 "encoding":{"x":{"datum":407.14},"x2":{"datum":426.43},"y":{"field":"p","type":"quantitative"}}},
{"data":{"name":"tags"},"mark":{"type":"text","color":"#5a5a5a","fontSize":9.5,"align":"center","baseline":"middle"},
 "encoding":{"x":{"datum":416.8},"y":{"field":"p","type":"quantitative"},"text":{"field":"p","type":"quantitative","format":".5f"}}},
{"data":{"values":[{}]},"mark":{"type":"rule","color":"#4cc3d9","strokeWidth":12.5,"strokeCap":"butt"},
 "encoding":{"x":{"datum":389.9},"x2":{"datum":426.43},"y":{"datum":1.2569}}},
{"data":{"values":[{}]},"mark":{"type":"text","text":"GBPUSD","color":"#131722","fontSize":9.5,"align":"center","baseline":"middle"},
 "encoding":{"x":{"datum":398.5},"y":{"datum":1.2569}}},
{"data":{"values":[{}]},"mark":{"type":"text","text":"1.25690","color":"#131722","fontSize":9.5,"align":"center","baseline":"middle"},
 "encoding":{"x":{"datum":416.8},"y":{"datum":1.2569}}},
{"data":{"name":"shafts"},"mark":{"type":"trail"},
 "encoding":{"x":{"field":"t","type":"quantitative"},"y":{"field":"p","type":"quantitative"},"detail":{"field":"id"},
  "size":{"condition":[{"test":"datum.part=='end'&&datum.hs=='l'","value":11},{"test":"datum.part=='end'","value":6}],"value":1},
  "color":{"condition":{"test":"datum.kind=='up'","value":"#ffff00"},"value":"#ff0000"}}},
{"data":{"name":"heads"},"mark":{"type":"point","shape":"M0,0L0.62,1L0,0.82L-0.62,1Z","filled":true,"opacity":1,"strokeWidth":0},
 "encoding":{"x":{"field":"t","type":"quantitative"},"y":{"field":"p","type":"quantitative"},
  "angle":{"field":"heading","type":"quantitative","scale":null},
  "size":{"condition":{"test":"datum.hs=='l'","value":2704},"value":900},
  "color":{"condition":{"test":"datum.kind=='up'","value":"#ffff00"},"value":"#ff0000"}}},
{"data":{"values":[{}]},"mark":{"type":"text","text":"British Pound / U.S. Dollar, 1h, FXCM","color":"#d1d4dc","fontSize":9,"align":"left","baseline":"middle"},
 "encoding":{"x":{"datum":-2.14},"y":{"datum":1.27413}}},
{"data":{"values":[{}]},"mark":{"type":"text","text":"O","color":"#d1d4dc","fontSize":9,"align":"left","baseline":"middle"},
 "encoding":{"x":{"datum":62.57},"y":{"datum":1.27413}}},
{"data":{"values":[{}]},"mark":{"type":"text","text":"1.25671","color":"#f2e600","fontSize":9,"align":"left","baseline":"middle"},
 "encoding":{"x":{"datum":65.6},"y":{"datum":1.27413}}},
{"data":{"values":[{}]},"mark":{"type":"text","text":"H","color":"#d1d4dc","fontSize":9,"align":"left","baseline":"middle"},
 "encoding":{"x":{"datum":83.14},"y":{"datum":1.27413}}},
{"data":{"values":[{}]},"mark":{"type":"text","text":"1.25699","color":"#f2e600","fontSize":9,"align":"left","baseline":"middle"},
 "encoding":{"x":{"datum":86.14},"y":{"datum":1.27413}}},
{"data":{"values":[{}]},"mark":{"type":"text","text":"L","color":"#d1d4dc","fontSize":9,"align":"left","baseline":"middle"},
 "encoding":{"x":{"datum":101.57},"y":{"datum":1.27413}}},
{"data":{"values":[{}]},"mark":{"type":"text","text":"1.25601","color":"#f2e600","fontSize":9,"align":"left","baseline":"middle"},
 "encoding":{"x":{"datum":103.9},"y":{"datum":1.27413}}},
{"data":{"values":[{}]},"mark":{"type":"text","text":"C","color":"#d1d4dc","fontSize":9,"align":"left","baseline":"middle"},
 "encoding":{"x":{"datum":120.0},"y":{"datum":1.27413}}},
{"data":{"values":[{}]},"mark":{"type":"text","text":"1.25690","color":"#f2e600","fontSize":9,"align":"left","baseline":"middle"},
 "encoding":{"x":{"datum":122.8},"y":{"datum":1.27413}}},
{"data":{"values":[{}]},"mark":{"type":"text","text":"+0.00019 (+0.02%)","color":"#f2e600","fontSize":9,"align":"left","baseline":"middle"},
 "encoding":{"x":{"datum":138.0},"y":{"datum":1.27413}}},
{"data":{"values":[{}]},"mark":{"type":"text","text":"TV","color":"#d1d4dc","fontSize":12,"fontWeight":"bold","align":"left","baseline":"middle"},
 "encoding":{"x":{"datum":-4.2857},"y":{"datum":1.22687}}}
]
}
